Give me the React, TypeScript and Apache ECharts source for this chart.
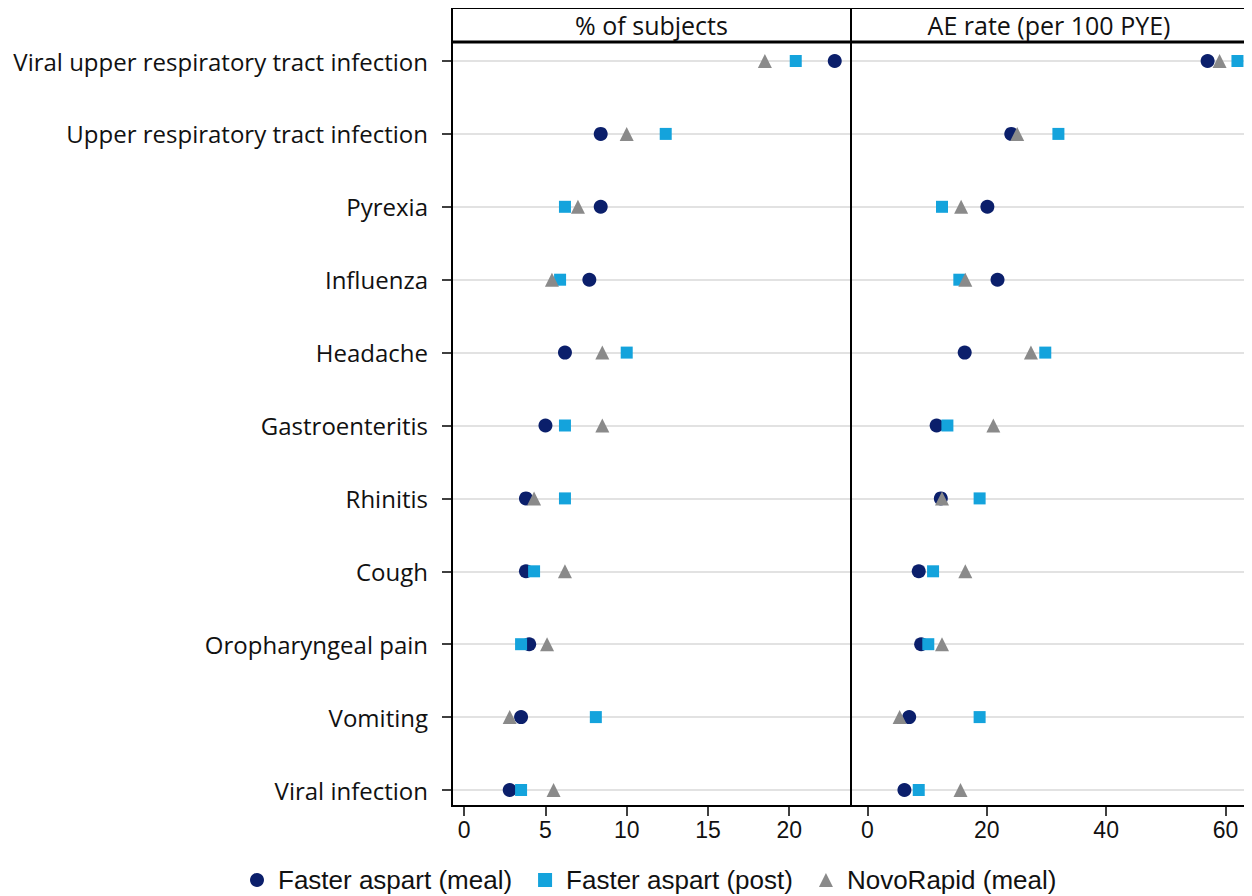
import React, { useEffect, useRef } from "react";
import * as echarts from "echarts";

// Adverse event terms, top to bottom
const categories = [
  "Viral upper respiratory tract infection",
  "Upper respiratory tract infection",
  "Pyrexia",
  "Influenza",
  "Headache",
  "Gastroenteritis",
  "Rhinitis",
  "Cough",
  "Oropharyngeal pain",
  "Vomiting",
  "Viral infection",
];

const seriesNames = ["Faster aspart (meal)", "Faster aspart (post)", "NovoRapid (meal)"];

// % of subjects with the event
const pctFasterMeal = [22.8, 8.4, 8.4, 7.7, 6.2, 5.0, 3.8, 3.8, 4.0, 3.5, 2.8];
const pctFasterPost = [20.4, 12.4, 6.2, 5.9, 10.0, 6.2, 6.2, 4.3, 3.5, 8.1, 3.5];
const pctNovoMeal = [18.5, 10.0, 7.0, 5.4, 8.5, 8.5, 4.3, 6.2, 5.1, 2.8, 5.5];

// AE rate per 100 patient-years of exposure
const rateFasterMeal = [57.0, 24.1, 20.1, 21.8, 16.3, 11.6, 12.3, 8.6, 9.0, 7.0, 6.2];
const rateFasterPost = [62.0, 32.0, 12.5, 15.4, 29.8, 13.4, 18.8, 11.0, 10.2, 18.8, 8.6];
const rateNovoMeal = [59.0, 25.1, 15.7, 16.4, 27.4, 21.1, 12.5, 16.4, 12.5, 5.4, 15.6];

const pctTicks = [0, 5, 10, 15, 20];
const rateTicks = [0, 20, 40, 60];

const panelTitles = ["% of subjects", "AE rate (per 100 PYE)"];

const NAVY = "#0b1f6b";
const CYAN = "#14a3dc";
const GREY = "#8a8a8a";

const LABEL_FONT = "'Open Sans', 'DejaVu Sans', sans-serif";
const NARROW_FONT = "'Liberation Sans Narrow', 'Liberation Sans', Arial, sans-serif";
const LEGEND_FONT = "'Liberation Sans', Arial, sans-serif";

// the chart div sits inside the body's 8px margin; layout below is in page pixels
const M = 8;

export default function App() {
  const ref = useRef<HTMLDivElement>(null);

  useEffect(() => {
    if (!ref.current) return;
    const chart = echarts.init(ref.current, null, { renderer: "svg" });

    const panels = [
      { left: 452 - M, width: 399, min: -0.75, max: 23.8, ticks: pctTicks },
      { left: 851 - M, width: 396, min: -2.75, max: 63.6, ticks: rateTicks },
    ];
    const top = 61 - M;
    const height = 729;
    const frameTop = 7 - M + 1;
    const headerBottom = 42 - M;
    const frameBottom = 806 - M;

    const markers = [
      { symbol: "circle", size: 14, color: NAVY },
      { symbol: "rect", size: 12, color: CYAN },
      { symbol: "triangle", size: 14, color: GREY },
    ];
    const panelData = [
      [pctFasterMeal, pctFasterPost, pctNovoMeal],
      [rateFasterMeal, rateFasterPost, rateNovoMeal],
    ];

    const series: any[] = [];
    panelData.forEach((sets, p) => {
      sets.forEach((vals, s) => {
        series.push({
          type: "scatter",
          name: seriesNames[s],
          xAxisIndex: p,
          yAxisIndex: p,
          symbol: markers[s].symbol,
          symbolSize: markers[s].size,
          itemStyle: { color: markers[s].color, opacity: 1 },
          data: vals.map((v, i) => [v, categories[i]]),
          z: 3 + s,
        });
      });
    });

    const graphics: any[] = [];
    panels.forEach((pn, p) => {
      graphics.push({
        type: "rect",
        shape: { x: pn.left, y: frameTop, width: pn.width, height: frameBottom - frameTop },
        style: { fill: "none", stroke: "#000", lineWidth: 2 },
        z: 10,
      });
      graphics.push({
        type: "line",
        shape: { x1: pn.left, y1: headerBottom, x2: pn.left + pn.width, y2: headerBottom },
        style: { stroke: "#000", lineWidth: 3 },
        z: 10,
      });
      graphics.push({
        type: "text",
        x: pn.left + pn.width / 2,
        y: (frameTop + headerBottom) / 2,
        style: {
          text: panelTitles[p],
          fontSize: 25,
          fontFamily: LABEL_FONT,
          fill: "#111",
          align: "center",
          verticalAlign: "middle",
        },
        z: 10,
      });
    });

    chart.setOption({
      animation: false,
      backgroundColor: "#fff",
      grid: panels.map((pn) => ({ left: pn.left, width: pn.width, top, height })),
      xAxis: panels.map((pn, p) => ({
        type: "value",
        gridIndex: p,
        min: pn.min,
        max: pn.max,
        position: "bottom",
        offset: frameBottom - (top + height),
        axisLine: { show: false },
        splitLine: { show: false },
        axisTick: {
          show: true,
          inside: false,
          length: 10,
          customValues: pn.ticks,
          lineStyle: { color: "#000", width: 1.5 },
        },
        axisLabel: {
          customValues: pn.ticks,
          margin: 12,
          fontSize: 23,
          fontFamily: NARROW_FONT,
          color: "#111",
        },
      })),
      yAxis: panels.map((pn, p) => ({
        type: "category",
        gridIndex: p,
        data: categories,
        inverse: true,
        position: "left",
        boundaryGap: false,
        axisLine: { show: p === 0, onZero: false, lineStyle: { color: "#000", width: 2 } },
        axisTick: {
          show: p === 0,
          inside: false,
          length: 10,
          interval: 0,
          lineStyle: { color: "#000", width: 1.5 },
        },
        axisLabel: {
          show: p === 0,
          interval: 0,
          margin: 24,
          fontSize: 24,
          fontFamily: LABEL_FONT,
          color: "#111",
        },
        splitLine: {
          show: true,
          interval: 0,
          lineStyle: { color: "#e2e2e2", width: 2 },
        },
      })),
      legend: {
        left: 245 - M,
        top: 862 - M,
        itemWidth: 14,
        itemHeight: 14,
        itemGap: 26,
        data: seriesNames,
        textStyle: {
          fontSize: 26,
          lineHeight: 26,
          fontFamily: LEGEND_FONT,
          color: "#111",
          padding: [0, 0, 0, 9],
        },
      },
      graphic: graphics,
      series,
    });

    return () => chart.dispose();
  }, []);

  return <div ref={ref} style={{ width: 1244, height: 888 }} />;
}
